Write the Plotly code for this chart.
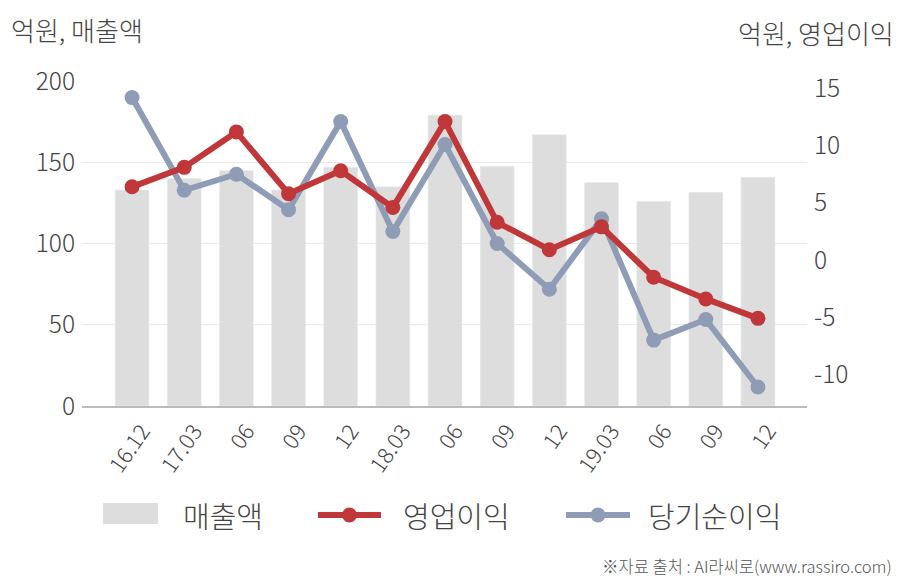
import plotly.graph_objects as go

periods = ["16.12", "17.03", "06", "09", "12", "18.03", "06", "09", "12", "19.03", "06", "09", "12"]
revenue = [133, 140, 145, 133, 147, 135, 179, 147.5, 167, 137.6, 126, 131.5, 140.7]
operating_profit = [6.4, 8.1, 11.2, 5.8, 7.8, 4.6, 12.1, 3.3, 0.9, 2.9, -1.5, -3.4, -5.1]
net_income = [14.2, 6.1, 7.5, 4.4, 12.1, 2.5, 10.1, 1.45, -2.55, 3.6, -7.0, -5.2, -11.1]

left_ticks = [0, 50, 100, 150, 200]
right_ticks = [-10, -5, 0, 5, 10, 15]
right_labels = ["-10", "-5", "0", "5", "10", "15"]

RED = "#c0373a"
BLUE = "#8f9cb6"
BAR = "#dddddd"
FONT = "Noto Sans CJK KR"
TXT = "#444444"
W = 300

xs = list(range(len(periods)))

fig = go.Figure()
fig.add_trace(go.Bar(x=xs, y=revenue, marker_color=BAR, width=0.65, name="매출액",
                     showlegend=False, yaxis="y"))
fig.add_trace(go.Scatter(x=xs, y=net_income, mode="lines+markers", name="당기순이익",
                         line=dict(color=BLUE, width=6), marker=dict(size=15, color=BLUE),
                         showlegend=False, yaxis="y2"))
fig.add_trace(go.Scatter(x=xs, y=operating_profit, mode="lines+markers", name="영업이익",
                         line=dict(color=RED, width=6), marker=dict(size=15, color=RED),
                         showlegend=False, yaxis="y2"))

fig.update_layout(
    width=908, height=580,
    margin=dict(l=82, r=101, t=81, b=174),
    paper_bgcolor="white", plot_bgcolor="white",
    font=dict(family=FONT, color=TXT, weight=W),
    xaxis=dict(tickmode="array", tickvals=xs, ticktext=periods, range=[-0.96, 12.94],
               tickangle=-55, tickfont=dict(size=22, color=TXT, weight=W), showgrid=False,
               showline=True, linecolor="#bbbbbb", linewidth=1.5, ticks="", zeroline=False,
               ticklabelshift=10, ticklabelstandoff=2),
    yaxis=dict(range=[0, 200], tickvals=left_ticks, tickfont=dict(size=24.5, color=TXT, weight=W),
               showgrid=True, gridcolor="#e9e9e9", gridwidth=1, zeroline=False,
               ticks="", ticklabelstandoff=6),
    yaxis2=dict(overlaying="y", side="right", range=[-12.76, 15.65], tickmode="array",
                tickvals=right_ticks, ticktext=right_labels,
                tickfont=dict(size=24.5, color=TXT, weight=W), showgrid=False, zeroline=False,
                ticks="", ticklabelstandoff=6),
    bargap=0.3,
)


def px_x(p):
    return (p - 82) / (908 - 82 - 101)


def px_y(p):
    return (580 - 174 - p) / (580 - 81 - 174)


annots = [
    dict(x=px_x(9), y=px_y(30), text="억원, 매출액", xanchor="left", size=26, color=TXT),
    dict(x=px_x(896), y=px_y(33), text="억원, 영업이익", xanchor="right", size=26, color=TXT),
    dict(x=px_x(181), y=px_y(515), text="매출액", xanchor="left", size=29, color=TXT),
    dict(x=px_x(401), y=px_y(515), text="영업이익", xanchor="left", size=29, color=TXT),
    dict(x=px_x(646), y=px_y(515), text="당기순이익", xanchor="left", size=29, color=TXT),
    dict(x=px_x(894), y=px_y(566), text="※자료 출처 : AI라씨로(www.rassiro.com)", xanchor="right",
         size=16.5, color="#555555"),
]
for a in annots:
    fig.add_annotation(x=a["x"], y=a["y"], xref="paper", yref="paper", text=a["text"],
                       showarrow=False, xanchor=a["xanchor"], yanchor="middle",
                       font=dict(size=a["size"], color=a["color"], family=FONT, weight=W))

# legend symbols
fig.add_shape(type="rect", xref="paper", yref="paper", x0=px_x(103), x1=px_x(158),
              y0=px_y(524), y1=px_y(503), fillcolor=BAR, line=dict(width=0))
for x0, x1, c in [(318, 381, RED), (566, 630, BLUE)]:
    fig.add_shape(type="line", xref="paper", yref="paper", x0=px_x(x0), x1=px_x(x1),
                  y0=px_y(515), y1=px_y(515), line=dict(color=c, width=6))
    cx = (x0 + x1) / 2
    fig.add_shape(type="circle", xref="paper", yref="paper", x0=px_x(cx - 7.5), x1=px_x(cx + 7.5),
                  y0=px_y(522.5), y1=px_y(507.5), fillcolor=c, line=dict(width=0))

fig.write_html("out.html")
